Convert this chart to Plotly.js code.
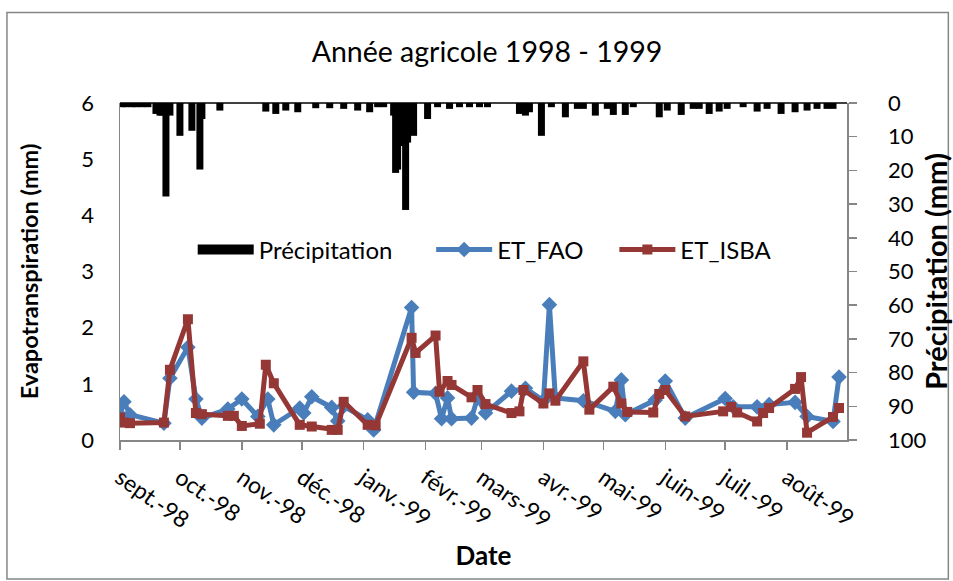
<!DOCTYPE html>
<html>
<head>
<meta charset="utf-8">
<script src="https://cdn.plot.ly/plotly-3.0.1.min.js"></script>
<style>html,body{margin:0;padding:0;background:#fff;}#chart{width:953px;height:581px;}</style>
</head>
<body>
<div id="chart"></div>
<script>
// ---- Data ----
const faoDates = ['1998-09-01','1998-09-03','1998-09-06','1998-09-23','1998-09-26','1998-10-05','1998-10-09','1998-10-12','1998-10-25','1998-11-01','1998-11-09','1998-11-14','1998-11-17','1998-11-30','1998-12-02','1998-12-06','1998-12-16','1998-12-19','1998-12-22','1999-01-03','1999-01-06','1999-01-25','1999-01-26','1999-02-06','1999-02-09','1999-02-12','1999-02-14','1999-02-24','1999-02-27','1999-03-03','1999-03-16','1999-03-23','1999-04-01','1999-04-04','1999-04-07','1999-04-21','1999-05-07','1999-05-10','1999-05-12','1999-05-27','1999-06-01','1999-06-11','1999-07-01','1999-07-05','1999-07-17','1999-07-23','1999-08-05','1999-08-11','1999-08-24','1999-08-27'];
const etFAO = [0.45,0.68,0.45,0.30,1.10,1.65,0.73,0.39,0.55,0.73,0.42,0.73,0.27,0.57,0.48,0.77,0.58,0.34,0.60,0.36,0.18,2.36,0.85,0.83,0.38,0.75,0.38,0.39,0.75,0.48,0.87,0.92,0.70,2.41,0.75,0.70,0.51,1.07,0.45,0.71,1.05,0.39,0.74,0.59,0.59,0.63,0.67,0.42,0.33,1.12];

const isbaDates = ['1998-09-01','1998-09-03','1998-09-06','1998-09-23','1998-09-26','1998-10-05','1998-10-09','1998-10-12','1998-10-25','1998-10-28','1998-11-01','1998-11-10','1998-11-13','1998-11-17','1998-11-30','1998-12-06','1998-12-16','1998-12-19','1998-12-22','1999-01-03','1999-01-07','1999-01-25','1999-01-27','1999-02-06','1999-02-08','1999-02-12','1999-02-14','1999-02-24','1999-02-27','1999-03-03','1999-03-16','1999-03-20','1999-03-22','1999-04-01','1999-04-04','1999-04-07','1999-04-21','1999-04-24','1999-05-06','1999-05-10','1999-05-13','1999-05-26','1999-05-29','1999-06-01','1999-06-11','1999-06-30','1999-07-04','1999-07-07','1999-07-17','1999-07-20','1999-07-23','1999-08-05','1999-08-08','1999-08-11','1999-08-24','1999-08-27'];
const etISBA = [0.40,0.31,0.30,0.31,1.25,2.15,0.48,0.46,0.43,0.43,0.25,0.29,1.34,1.01,0.27,0.24,0.18,0.18,0.68,0.27,0.26,1.82,1.55,1.86,0.86,1.05,0.98,0.76,0.89,0.64,0.48,0.51,0.89,0.65,0.83,0.70,1.40,0.54,0.95,0.65,0.50,0.49,0.82,0.89,0.42,0.51,0.59,0.49,0.33,0.48,0.57,0.91,1.12,0.13,0.41,0.57];

const precDates = ['1998-09-02','1998-09-04','1998-09-07','1998-09-09','1998-09-12','1998-09-15','1998-09-19','1998-09-21','1998-09-22','1998-09-24','1998-09-26','1998-10-01','1998-10-07','1998-10-11','1998-10-12','1998-10-21','1998-11-13','1998-11-18','1998-11-23','1998-11-29','1998-12-08','1998-12-15','1998-12-22','1998-12-29','1999-01-04','1999-01-08','1999-01-11','1999-01-16','1999-01-17','1999-01-18','1999-01-19','1999-01-20','1999-01-21','1999-01-22','1999-01-23','1999-01-26','1999-02-02','1999-02-07','1999-02-13','1999-02-18','1999-02-23','1999-02-28','1999-03-04','1999-03-20','1999-03-23','1999-03-25','1999-03-31','1999-04-05','1999-04-12','1999-04-18','1999-04-21','1999-04-27','1999-05-03','1999-05-06','1999-05-12','1999-05-16','1999-05-29','1999-06-02','1999-06-09','1999-06-15','1999-06-18','1999-06-23','1999-06-28','1999-07-02','1999-07-10','1999-07-17','1999-07-22','1999-07-29','1999-08-05','1999-08-11','1999-08-16','1999-08-21','1999-08-24'];
const precip = [0.5,0.5,0.5,0.5,0.5,0.5,2.5,3,3,27,3,9,7.5,19,4,1.5,1.8,2.5,1.5,2,0.8,0.8,1,1.5,2,0.5,0.5,3,20,19,12,11,12,31,11,9,4,0.5,1,0.5,0.5,0.5,0.5,2.5,3,2,9,0.5,3.5,1,1,3,1,2.8,2.8,0.5,3.5,1.5,2.8,1,1,2.5,1.8,1,0.5,1.8,1,2.5,2,1.5,1,1,1];

const monthTicks = ['1998-09-01','1998-10-01','1998-11-01','1998-12-01','1999-01-01','1999-02-01','1999-03-01','1999-04-01','1999-05-01','1999-06-01','1999-07-01','1999-08-01'];
const monthLabels = ['sept.-98','oct.-98','nov.-98','déc.-98','janv.-99','févr.-99','mars-99','avr.-99','mai-99','juin-99','juil.-99','août-99'];

// ---- Styles ----
const FONT = 'Lato, "Open Sans", sans-serif';
const BLUE = '#4a7ebb';
const RED = '#953735';
const GRAY = '#868686';

const traces = [
  {
    type: 'bar', x: precDates, y: precip, xaxis: 'x', yaxis: 'y2',
    width: 86400000,
    marker: {color: '#000', line: {color: '#000', width: 5}},
    showlegend: false, name: 'Précipitation'
  },
  {
    type: 'scatter', mode: 'lines', x: [null], y: [null],
    name: 'Précipitation', legend: 'legend',
    line: {color: '#000', width: 15}
  },
  {
    type: 'scatter', mode: 'lines+markers', x: faoDates, y: etFAO,
    name: 'ET_FAO', legend: 'legend2',
    line: {color: BLUE, width: 5},
    marker: {symbol: 'diamond', size: 12, color: BLUE}
  },
  {
    type: 'scatter', mode: 'lines+markers', x: isbaDates, y: etISBA,
    name: 'ET_ISBA', legend: 'legend3',
    line: {color: RED, width: 5},
    marker: {symbol: 'square', size: 10, color: RED}
  }
];

const legendBase = {
  orientation: 'h', yanchor: 'middle', xanchor: 'left', y: 0.564,
  bgcolor: 'rgba(0,0,0,0)', borderwidth: 0,
  font: {family: FONT, size: 24, color: '#000'}, itemwidth: 56
};

const layout = {
  width: 953, height: 581,
  margin: {l: 120, r: 106, t: 103, b: 141},
  paper_bgcolor: '#fff', plot_bgcolor: '#fff',
  font: {family: FONT, color: '#000'},
  title: {
    text: 'Année agricole 1998 - 1999',
    font: {family: FONT, size: 28.5, color: '#000'},
    xref: 'container', yref: 'container', x: 0.511, y: 0.91,
    xanchor: 'center', yanchor: 'middle'
  },
  xaxis: {
    type: 'date', range: ['1998-09-01', '1999-08-31'],
    tickmode: 'array', tickvals: monthTicks, ticktext: monthLabels,
    tickangle: 35, ticks: 'outside', ticklen: 8, tickcolor: GRAY, tickwidth: 1.5,
    showline: true, linecolor: GRAY, linewidth: 1.5,
    showgrid: false, zeroline: false,
    tickfont: {family: FONT, size: 23, color: '#000'},
    ticklabelstandoff: 6,
    title: {text: 'Date', font: {family: FONT, size: 26, weight: 'bold', color: '#000'}, standoff: 14}
  },
  yaxis: {
    range: [0, 6], dtick: 1, showline: true, linecolor: GRAY, linewidth: 1.5,
    ticks: '', showgrid: false, zeroline: false,
    tickfont: {family: FONT, size: 22, color: '#000'},
    ticklabelstandoff: 20,
    title: {text: 'Evapotranspiration (mm)', font: {family: FONT, size: 23.5, weight: 'bold', color: '#000'}, standoff: 36}
  },
  yaxis2: {
    overlaying: 'y', side: 'right', range: [100, 0], dtick: 10,
    showline: true, linecolor: GRAY, linewidth: 1.5,
    ticks: 'outside', ticklen: 8, tickcolor: GRAY, tickwidth: 1.5,
    showgrid: false, zeroline: false,
    tickfont: {family: FONT, size: 22, color: '#000'},
    ticklabelstandoff: 27,
    title: {text: 'Précipitation (mm)', font: {family: FONT, size: 29, weight: 'bold', color: '#000'}, standoff: 4}
  },
  legend: Object.assign({}, legendBase, {x: 0.10}),
  legend2: Object.assign({}, legendBase, {x: 0.428}),
  legend3: Object.assign({}, legendBase, {x: 0.68}),
  shapes: [
    {type: 'line', xref: 'paper', yref: 'paper', x0: 0, x1: 1, y0: 1, y1: 1, line: {color: '#000', width: 1.5}},
    {type: 'rect', xref: 'paper', yref: 'paper', x0: -0.1555, x1: 1.1394, y0: -0.4128, y1: 1.2682, line: {color: GRAY, width: 1.5}, fillcolor: 'rgba(0,0,0,0)'}
  ]
};

Plotly.newPlot('chart', traces, layout, {staticPlot: true, displayModeBar: false});
</script>
</body>
</html>
